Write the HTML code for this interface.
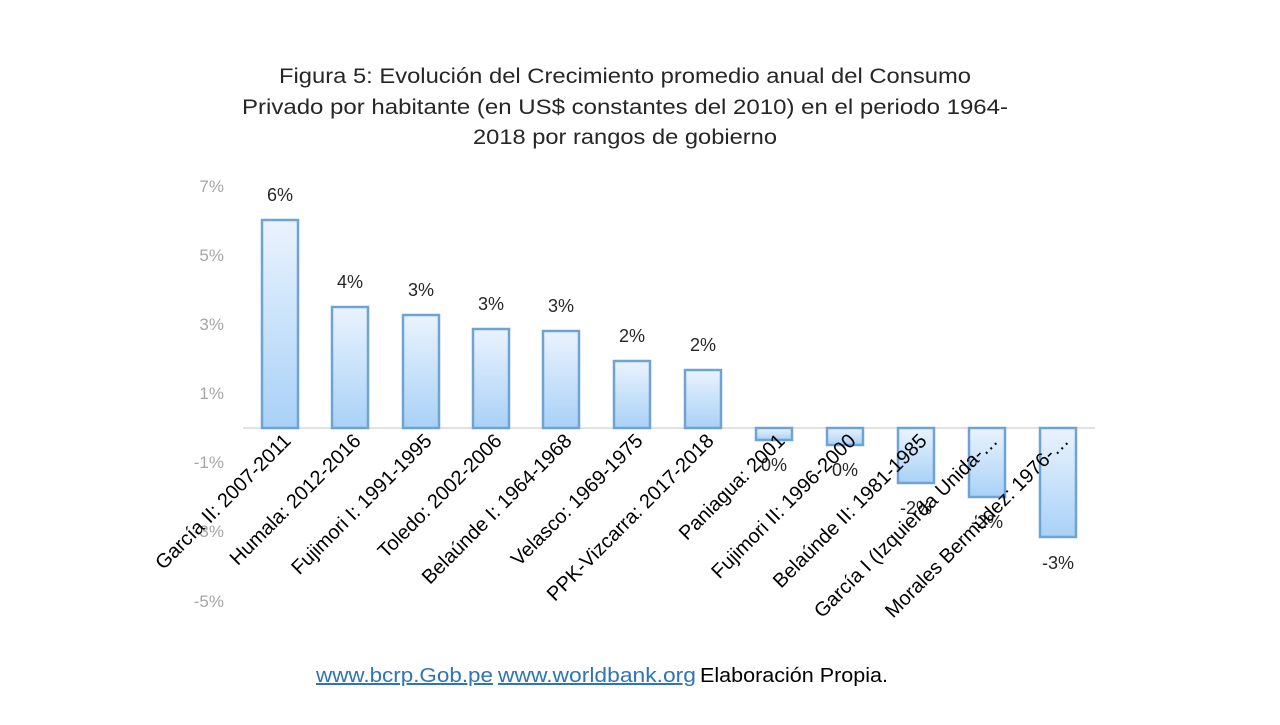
<!DOCTYPE html>
<html><head><meta charset="utf-8"><style>
body{margin:0;background:#fff;width:1280px;height:720px;overflow:hidden}
</style></head><body>
<svg width="1280" height="720" xmlns="http://www.w3.org/2000/svg" font-family="Liberation Sans, sans-serif">
<defs>
<linearGradient id="g" x1="0" y1="0" x2="0" y2="1">
<stop offset="0" stop-color="#eaf3fd"/><stop offset="1" stop-color="#a9d1f7"/>
</linearGradient>
</defs>
<g font-size="21" fill="#262626" text-anchor="middle">
<text x="625" y="83" textLength="692" lengthAdjust="spacingAndGlyphs">Figura 5: Evolución del Crecimiento  promedio anual del Consumo</text>
<text x="625" y="114" textLength="766" lengthAdjust="spacingAndGlyphs">Privado por habitante  (en US$ constantes del 2010) en el periodo 1964-</text>
<text x="625" y="144" textLength="304" lengthAdjust="spacingAndGlyphs">2018 por rangos de gobierno</text>
</g>
<g font-size="17" fill="#a6a6a6" text-anchor="end">
<text x="224" y="192">7%</text><text x="224" y="261">5%</text><text x="224" y="330">3%</text>
<text x="224" y="399">1%</text><text x="224" y="468">-1%</text><text x="224" y="537">-3%</text>
<text x="224" y="607">-5%</text>
</g>
<line x1="243" y1="428" x2="1095" y2="428" stroke="#d9d9d9" stroke-width="1.5"/>
<g stroke="#6fa3d6" stroke-width="2.5" fill="url(#g)">
<rect x="262" y="220" width="36" height="208"/>
<rect x="332" y="307" width="36" height="121"/>
<rect x="403" y="315" width="36" height="113"/>
<rect x="473" y="329" width="36" height="99"/>
<rect x="543" y="331" width="36" height="97"/>
<rect x="614" y="361" width="36" height="67"/>
<rect x="685" y="370" width="36" height="58"/>
<rect x="756" y="428" width="36" height="12"/>
<rect x="827" y="428" width="36" height="17"/>
<rect x="898" y="428" width="36" height="55"/>
<rect x="969" y="428" width="36" height="69"/>
<rect x="1040" y="428" width="36" height="109"/>
</g>
<g font-size="18" fill="#262626" text-anchor="middle">
<text x="280" y="201">6%</text><text x="350" y="288">4%</text><text x="421" y="296">3%</text>
<text x="491" y="310">3%</text><text x="561" y="312">3%</text><text x="632" y="342">2%</text>
<text x="703" y="351">2%</text>
<text x="774" y="471">0%</text><text x="845" y="476">0%</text><text x="916" y="514">-2%</text>
<text x="987" y="528">-2%</text><text x="1058" y="569">-3%</text>
</g>
<g font-size="20" fill="#000" text-anchor="end">
<text transform="translate(292,442) rotate(-45)">García II: 2007-2011</text>
<text transform="translate(362,442) rotate(-45)">Humala: 2012-2016</text>
<text transform="translate(433,442) rotate(-45)">Fujimori I: 1991-1995</text>
<text transform="translate(503,442) rotate(-45)">Toledo: 2002-2006</text>
<text transform="translate(573,442) rotate(-45)">Belaúnde I: 1964-1968</text>
<text transform="translate(644,442) rotate(-45)">Velasco: 1969-1975</text>
<text transform="translate(715,442) rotate(-45)">PPK-Vizcarra: 2017-2018</text>
<text transform="translate(786,442) rotate(-45)">Paniagua: 2001</text>
<text transform="translate(857,442) rotate(-45)">Fujimori II: 1996-2000</text>
<text transform="translate(928,442) rotate(-45)">Belaúnde II: 1981-1985</text>
<text transform="translate(999,442) rotate(-45)">García I (Izquierda Unida-…</text>
<text transform="translate(1070,442) rotate(-45)">Morales Bermúdez: 1976-…</text>
</g>
<g font-size="20" text-anchor="start">
<text x="316" y="682" fill="#2e75b6" text-decoration="underline" textLength="177" lengthAdjust="spacingAndGlyphs">www.bcrp.Gob.pe</text>
<text x="498" y="682" fill="#2e75b6" text-decoration="underline" textLength="198" lengthAdjust="spacingAndGlyphs">www.worldbank.org</text>
<text x="700" y="682" fill="#000" textLength="188" lengthAdjust="spacingAndGlyphs">Elaboración Propia.</text>
</g>
</svg>
</body></html>
